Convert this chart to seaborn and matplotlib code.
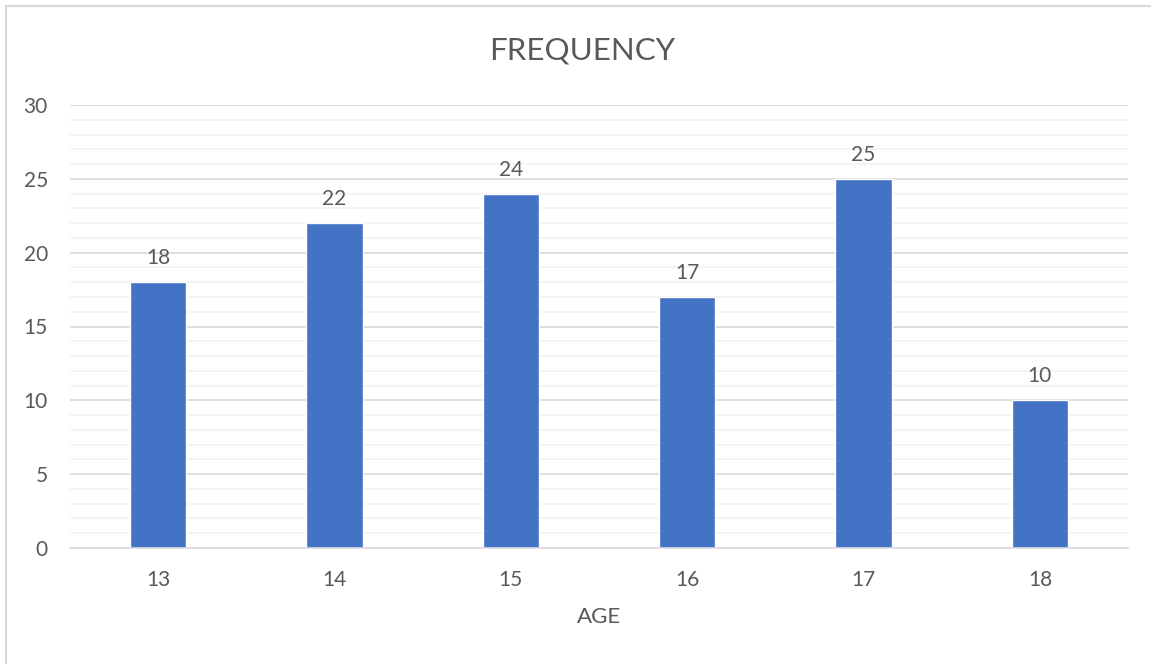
import matplotlib
matplotlib.use("Agg")
import matplotlib.pyplot as plt
from matplotlib.patches import Rectangle
from matplotlib.ticker import MultipleLocator
import seaborn as sns
import pandas as pd

ages = ["13", "14", "15", "16", "17", "18"]
frequency = [18, 22, 24, 17, 25, 10]

sns.set_theme(style="white")
plt.rcParams["font.family"] = ["Lato", "DejaVu Sans"]

TEXT = "#595959"
BAR = "#4472C4"

df = pd.DataFrame({"AGE": ages, "FREQUENCY": frequency})

fig = plt.figure(figsize=(11.51, 6.64), dpi=100)
ax = fig.add_axes([70 / 1151, 1 - 548 / 664, 1058 / 1151, 443 / 664])

sns.barplot(data=df, x="AGE", y="FREQUENCY", color=BAR, width=0.32,
            saturation=1, ax=ax, zorder=3)

ax.set_ylim(0, 30)
ax.set_xlim(-0.5, len(ages) - 0.5)
ax.yaxis.set_major_locator(MultipleLocator(5))
ax.yaxis.set_minor_locator(MultipleLocator(1))
ax.grid(axis="y", which="minor", color="#F2F2F2", linewidth=1.2, zorder=0)
ax.grid(axis="y", which="major", color="#D9D9D9", linewidth=1.2, zorder=1)
ax.grid(axis="x", visible=False)
for side in ["top", "right", "left"]:
    ax.spines[side].set_visible(False)
ax.spines["bottom"].set_color("#D9D9D9")
ax.spines["bottom"].set_linewidth(1.2)
ax.spines["bottom"].set_zorder(4)

ax.tick_params(axis="both", which="both", length=0, labelsize=15,
               labelcolor=TEXT)
ax.tick_params(axis="y", pad=16)
ax.tick_params(axis="x", pad=16)
for lbl in ax.get_yticklabels():
    lbl.set_horizontalalignment("right")

ax.set_ylabel("")
ax.set_xlabel("AGE", fontsize=16, color=TEXT, labelpad=12)
fig.text(582 / 1151, 1 - 50 / 664, "FREQUENCY", fontsize=22.5, color=TEXT,
         ha="center", va="center")

for container in ax.containers:
    ax.bar_label(container, labels=[str(v) for v in frequency],
                 padding=10, fontsize=15, color=TEXT)

# chart frame
fig.patches.append(Rectangle((6 / 1151, -0.05), 1.2, 1 - 6 / 664 + 0.05,
                             transform=fig.transFigure, fill=False,
                             edgecolor="#D9D9D9", linewidth=1.5))

fig.savefig("out.png", dpi=100)
